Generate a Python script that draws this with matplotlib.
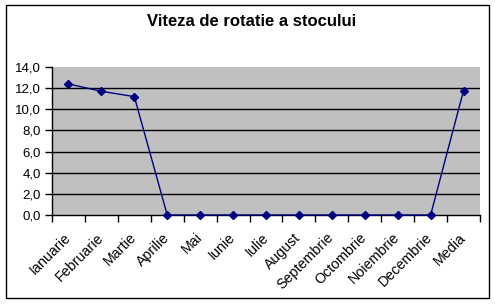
import matplotlib
matplotlib.use("Agg")
import matplotlib.pyplot as plt
from matplotlib.patches import Rectangle
from matplotlib.transforms import ScaledTranslation

categories = ["Ianuarie", "Februarie", "Martie", "Aprilie", "Mai", "Iunie", "Iulie",
              "August", "Septembrie", "Octombrie", "Noiembrie", "Decembrie", "Media"]
values = [12.4, 11.7, 11.2, 0, 0, 0, 0, 0, 0, 0, 0, 0, 11.76]
yticks = [0, 2, 4, 6, 8, 10, 12, 14]
ytick_labels = ["0,0", "2,0", "4,0", "6,0", "8,0", "10,0", "12,0", "14,0"]
title = "Viteza de rotatie a stocului"

W, H = 495, 304
plt.rcParams['font.family'] = ['Liberation Sans', 'DejaVu Sans']
fig = plt.figure(figsize=(W / 100, H / 100), dpi=100)
fig.patch.set_facecolor('white')

L, R, T, B = 52, 480, 67, 215
ax = fig.add_axes([L / W, 1 - B / H, (R - L) / W, (B - T) / H])
ax.set_facecolor('#C0C0C0')

n = len(categories)
x = [i + 0.5 for i in range(n)]
ax.plot(x, values, color='#000080', lw=1.0, marker='D', markersize=4.5,
        clip_on=False, zorder=5)

ax.set_xlim(0, n)
ax.set_ylim(0, 14)
for v in yticks[1:-1]:
    ax.axhline(v, color='black', lw=1.0, zorder=1)

ax.set_yticks(yticks)
ax.set_yticklabels(ytick_labels, fontsize=9.5)
ax.set_xticks(range(n + 1))
ax.set_xticklabels([])
ax.set_xticks(x, minor=True)
ax.set_xticklabels(categories, minor=True, rotation=45, ha='right', va='top',
                   rotation_mode='anchor', fontsize=10.3)
ax.tick_params(axis='x', which='minor', length=0, pad=11)
ax.tick_params(axis='both', which='major', direction='out', length=5, width=1,
               color='black')
ax.tick_params(axis='y', pad=3)
off = ScaledTranslation(-5 / 100, 0, fig.dpi_scale_trans)
for lab in ax.get_xticklabels(minor=True):
    lab.set_transform(lab.get_transform() + off)

for s in ['top', 'right']:
    ax.spines[s].set_visible(False)
for s in ['left', 'bottom']:
    ax.spines[s].set_color('black')
    ax.spines[s].set_linewidth(1.0)
    ax.spines[s].set_zorder(4)

fig.text(252 / W, 1 - 22 / H, title, ha='center', va='center',
         fontsize=12, fontweight='bold')

fig.patches.append(Rectangle((5.5 / W, 1 - 298 / H), (489 - 5.5) / W, (298 - 5) / H,
                             transform=fig.transFigure, fill=False,
                             edgecolor='black', lw=1.0))

fig.savefig("out.png", dpi=100)
